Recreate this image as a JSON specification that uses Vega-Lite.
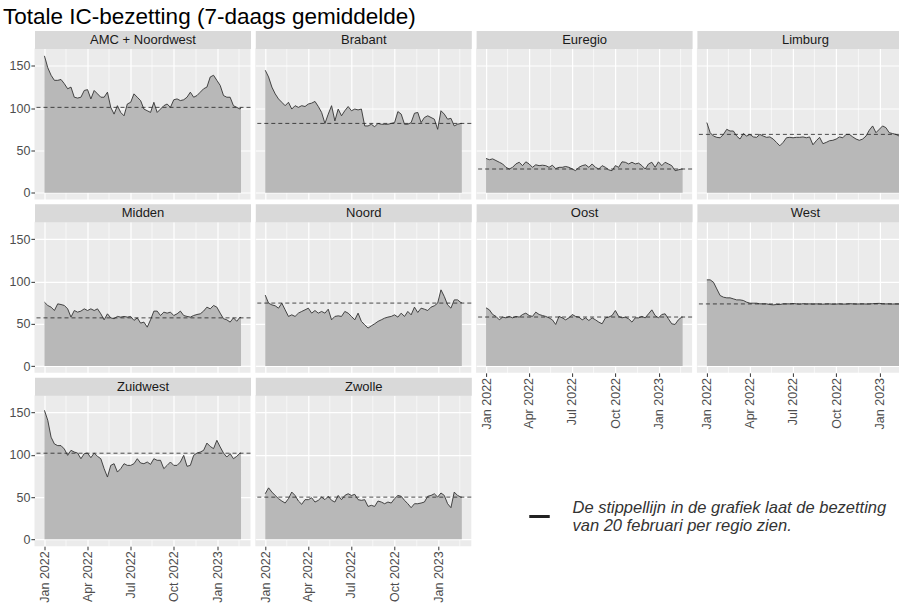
{
"$schema": "https://vega.github.io/schema/vega-lite/v6.json",
"background": "white",
"padding": {"left": 2.5, "top": 5.5, "right": 0, "bottom": 0},
"title": {"text": "Totale IC-bezetting (7-daags gemiddelde)", "anchor": "start", "font": "Liberation Sans", "fontSize": 22.5, "fontWeight": "normal", "color": "#000000", "offset": 5, "dx": -6},
"datasets": {
"ic": [
{"d":"2022-01-01","amc":162,"bra":145,"eur":40.5,"lim":83,"mid":75.6,"noo":84,"oos":68.9,"wes":102,"zui":152.8,"zwo":54},
{"d":"2022-01-08","amc":148,"bra":137,"eur":39,"lim":71,"mid":71.7,"noo":74.4,"oos":66.5,"wes":102,"zui":141,"zwo":61},
{"d":"2022-01-15","amc":139,"bra":125,"eur":40,"lim":67,"mid":69.7,"noo":72.4,"oos":61,"wes":99.2,"zui":121,"zwo":56},
{"d":"2022-01-22","amc":133,"bra":117,"eur":38,"lim":65.5,"mid":65.7,"noo":71.3,"oos":58.7,"wes":91.3,"zui":113,"zwo":52},
{"d":"2022-01-29","amc":133,"bra":111,"eur":36,"lim":65,"mid":73.6,"noo":68.5,"oos":54.7,"wes":83.5,"zui":111,"zwo":48.2},
{"d":"2022-02-05","amc":134,"bra":107,"eur":34,"lim":69,"mid":72.8,"noo":74.4,"oos":57.9,"wes":81.5,"zui":111,"zwo":45.4},
{"d":"2022-02-12","amc":129,"bra":103,"eur":30,"lim":75,"mid":71.7,"noo":66.5,"oos":57,"wes":80.7,"zui":107,"zwo":43},
{"d":"2022-02-19","amc":123,"bra":107,"eur":28,"lim":73,"mid":67.7,"noo":58.7,"oos":58.7,"wes":80.7,"zui":99.5,"zwo":48.2},
{"d":"2022-02-26","amc":125,"bra":99,"eur":30,"lim":73,"mid":57.9,"noo":60.6,"oos":57,"wes":79.5,"zui":105.4,"zwo":56},
{"d":"2022-03-05","amc":113,"bra":103,"eur":34,"lim":67,"mid":65.7,"noo":58.7,"oos":58.7,"wes":78.3,"zui":103.4,"zwo":52},
{"d":"2022-03-12","amc":112,"bra":101,"eur":36,"lim":63.5,"mid":63.8,"noo":62.6,"oos":57.9,"wes":78.3,"zui":102.2,"zwo":45.4},
{"d":"2022-03-19","amc":113,"bra":103,"eur":32,"lim":70,"mid":65,"noo":64.6,"oos":61,"wes":77.6,"zui":95.5,"zwo":41.5},
{"d":"2022-03-26","amc":121,"bra":102,"eur":36.5,"lim":67,"mid":67.7,"noo":66.5,"oos":62.6,"wes":75.6,"zui":101.5,"zwo":47},
{"d":"2022-04-02","amc":122,"bra":105,"eur":34,"lim":69,"mid":65.7,"noo":68.5,"oos":59.8,"wes":74.4,"zui":102.2,"zwo":47},
{"d":"2022-04-09","amc":111,"bra":106,"eur":30,"lim":66,"mid":67.7,"noo":62.6,"oos":58.7,"wes":74.4,"zui":96.7,"zwo":49.3},
{"d":"2022-04-16","amc":121,"bra":108,"eur":33,"lim":65.5,"mid":65.7,"noo":65.7,"oos":63.8,"wes":74.4,"zui":102.2,"zwo":44.2},
{"d":"2022-04-23","amc":117,"bra":102,"eur":32,"lim":69,"mid":67.7,"noo":62.6,"oos":61,"wes":73.6,"zui":98.3,"zwo":46.2},
{"d":"2022-04-30","amc":113,"bra":95,"eur":32.5,"lim":67,"mid":61.8,"noo":64.6,"oos":59.8,"wes":73.6,"zui":95.5,"zwo":50.1},
{"d":"2022-05-07","amc":113,"bra":82,"eur":32,"lim":65.5,"mid":54.7,"noo":62.6,"oos":58.7,"wes":73.6,"zui":83.7,"zwo":47},
{"d":"2022-05-14","amc":119,"bra":93,"eur":30,"lim":66,"mid":61.8,"noo":67.3,"oos":57,"wes":72.8,"zui":73.8,"zwo":51},
{"d":"2022-05-21","amc":101,"bra":103,"eur":32.5,"lim":63.5,"mid":57,"noo":54.7,"oos":54.7,"wes":72.4,"zui":87.6,"zwo":46.2},
{"d":"2022-05-28","amc":93,"bra":85,"eur":28.5,"lim":59.5,"mid":56,"noo":58.7,"oos":49.2,"wes":72.8,"zui":89.6,"zwo":44.2},
{"d":"2022-06-04","amc":103,"bra":99,"eur":30,"lim":55.5,"mid":58.7,"noo":59.4,"oos":58.7,"wes":72.8,"zui":79.7,"zwo":52},
{"d":"2022-06-11","amc":95,"bra":91,"eur":30,"lim":59.5,"mid":57.9,"noo":58.7,"oos":57,"wes":73.6,"zui":83.7,"zwo":47},
{"d":"2022-06-18","amc":91,"bra":97,"eur":31,"lim":65,"mid":58.7,"noo":64.6,"oos":54.7,"wes":73.6,"zui":89.6,"zwo":52},
{"d":"2022-06-25","amc":105,"bra":102,"eur":30,"lim":65.5,"mid":57.9,"noo":62.6,"oos":57,"wes":73.6,"zui":87.6,"zwo":54},
{"d":"2022-07-02","amc":107,"bra":97,"eur":28,"lim":65,"mid":58.7,"noo":58.7,"oos":61,"wes":74,"zui":87.6,"zwo":52},
{"d":"2022-07-09","amc":117,"bra":99,"eur":26,"lim":65.5,"mid":54,"noo":54.7,"oos":58.7,"wes":73.6,"zui":89.6,"zwo":53.3},
{"d":"2022-07-16","amc":113,"bra":98,"eur":30,"lim":65.5,"mid":57,"noo":62.6,"oos":57.9,"wes":73.2,"zui":95.5,"zwo":47},
{"d":"2022-07-23","amc":109,"bra":99,"eur":32,"lim":66,"mid":50.8,"noo":52.8,"oos":54.7,"wes":73.8,"zui":90.4,"zwo":46.2},
{"d":"2022-07-30","amc":99,"bra":79,"eur":33,"lim":65,"mid":52,"noo":48.8,"oos":57,"wes":73.4,"zui":89.6,"zwo":47},
{"d":"2022-08-06","amc":97,"bra":79,"eur":30,"lim":66,"mid":46,"noo":44.9,"oos":53.9,"wes":73.6,"zui":91.6,"zwo":39},
{"d":"2022-08-13","amc":95,"bra":81,"eur":34,"lim":56.7,"mid":54.7,"noo":47.6,"oos":57,"wes":73.3,"zui":88.8,"zwo":40.3},
{"d":"2022-08-20","amc":107,"bra":78,"eur":30,"lim":61.5,"mid":65,"noo":50,"oos":54.7,"wes":73.6,"zui":95.5,"zwo":39},
{"d":"2022-08-27","amc":95,"bra":82,"eur":28,"lim":65.5,"mid":65,"noo":52.8,"oos":52,"wes":73.4,"zui":93.6,"zwo":45.4},
{"d":"2022-09-03","amc":99,"bra":81,"eur":32,"lim":58,"mid":59.8,"noo":54.7,"oos":50,"wes":73.2,"zui":93.6,"zwo":44.2},
{"d":"2022-09-10","amc":103,"bra":81,"eur":30,"lim":59.5,"mid":63.8,"noo":56.7,"oos":57,"wes":73.5,"zui":83.7,"zwo":42.2},
{"d":"2022-09-17","amc":105,"bra":81,"eur":27,"lim":61.5,"mid":62.6,"noo":57.9,"oos":57.9,"wes":73.6,"zui":87.6,"zwo":44.2},
{"d":"2022-09-24","amc":101,"bra":82,"eur":26,"lim":62,"mid":63.8,"noo":58.7,"oos":59.8,"wes":73.2,"zui":91.6,"zwo":43},
{"d":"2022-10-01","amc":110,"bra":83,"eur":32,"lim":63.5,"mid":59.8,"noo":60.6,"oos":65.7,"wes":73.4,"zui":87.6,"zwo":48.2},
{"d":"2022-10-08","amc":111,"bra":96,"eur":30,"lim":66,"mid":61.8,"noo":57.9,"oos":58.7,"wes":73.6,"zui":87.6,"zwo":52},
{"d":"2022-10-15","amc":109,"bra":93,"eur":36.5,"lim":65,"mid":65,"noo":62.6,"oos":57,"wes":73.3,"zui":91.6,"zwo":51},
{"d":"2022-10-22","amc":110,"bra":81,"eur":36,"lim":69,"mid":59.8,"noo":58.7,"oos":57.9,"wes":73.4,"zui":99.5,"zwo":46.2},
{"d":"2022-10-29","amc":113,"bra":81,"eur":34,"lim":69,"mid":58.7,"noo":64.6,"oos":55.9,"wes":73.8,"zui":86.5,"zwo":42.2},
{"d":"2022-11-05","amc":119,"bra":83,"eur":36,"lim":66,"mid":57.9,"noo":60.6,"oos":52,"wes":73.6,"zui":87.6,"zwo":37.5},
{"d":"2022-11-12","amc":113,"bra":94,"eur":34,"lim":63.5,"mid":59.8,"noo":69.7,"oos":57,"wes":73.4,"zui":99.5,"zwo":42.2},
{"d":"2022-11-19","amc":115,"bra":95,"eur":35,"lim":62,"mid":61,"noo":63.4,"oos":57,"wes":73.5,"zui":102.2,"zwo":42.2},
{"d":"2022-11-26","amc":119,"bra":83,"eur":32,"lim":63.5,"mid":61.8,"noo":68.5,"oos":58.7,"wes":73.6,"zui":103.4,"zwo":43},
{"d":"2022-12-03","amc":123,"bra":89,"eur":28,"lim":67,"mid":65,"noo":67.3,"oos":57,"wes":73.4,"zui":105.4,"zwo":44.2},
{"d":"2022-12-10","amc":125,"bra":91,"eur":34,"lim":74,"mid":69.7,"noo":65.7,"oos":61.8,"wes":73.5,"zui":114,"zwo":51},
{"d":"2022-12-17","amc":137,"bra":89,"eur":36,"lim":79,"mid":67.7,"noo":69.7,"oos":66.5,"wes":73.8,"zui":110,"zwo":52},
{"d":"2022-12-24","amc":139,"bra":87,"eur":30,"lim":71,"mid":71.7,"noo":71.3,"oos":59.8,"wes":74,"zui":107.4,"zwo":54},
{"d":"2022-12-31","amc":133,"bra":75,"eur":36.5,"lim":75,"mid":69.7,"noo":74.4,"oos":57,"wes":74.2,"zui":117.3,"zwo":50.1},
{"d":"2023-01-07","amc":127,"bra":97,"eur":32,"lim":79,"mid":62.6,"noo":90.2,"oos":61,"wes":73.8,"zui":109.4,"zwo":54.9},
{"d":"2023-01-14","amc":115,"bra":93,"eur":36,"lim":77,"mid":56,"noo":82.3,"oos":61.8,"wes":73.5,"zui":102.2,"zwo":52},
{"d":"2023-01-21","amc":113,"bra":87,"eur":34,"lim":71,"mid":54.7,"noo":72.4,"oos":55.9,"wes":73.6,"zui":97.5,"zwo":42.2},
{"d":"2023-01-28","amc":113,"bra":88,"eur":32,"lim":70,"mid":52,"noo":68.5,"oos":50,"wes":73.4,"zui":101.5,"zwo":37.5},
{"d":"2023-02-04","amc":103,"bra":79,"eur":26,"lim":69,"mid":57,"noo":78.3,"oos":49.2,"wes":73.5,"zui":95.5,"zwo":56},
{"d":"2023-02-11","amc":101,"bra":81,"eur":27,"lim":67,"mid":53,"noo":78.3,"oos":54.7,"wes":73.5,"zui":98.3,"zwo":52},
{"d":"2023-02-18","amc":99,"bra":82,"eur":28,"lim":69,"mid":57.9,"noo":75.2,"oos":57.9,"wes":73.5,"zui":102.2,"zwo":50.1},
{"d":"2023-02-20","amc":101,"bra":82,"eur":28,"lim":69,"mid":57,"noo":75,"oos":58,"wes":73.5,"zui":102,"zwo":50}
],
"refs": [
{"r":"amc","v":101},{"r":"bra","v":82},{"r":"eur","v":28},{"r":"lim","v":69},{"r":"mid","v":57},
{"r":"noo","v":74.5},{"r":"oos","v":58},{"r":"wes","v":73.5},{"r":"zui","v":102},{"r":"zwo","v":50}
]
},
"data": {"name": "ic"},
"columns": 4,
"spacing": {"row": 22.35, "column": 4.8},
"bounds": "flush",
"concat": [
{"width":216,"height":151,"resolve":{"axis":{"x":"independent"}},"layer":[
 {"mark":{"type":"area","fill":"#B8B8B8"},"encoding":{
  "x":{"field":"d","type":"temporal","scale":{"domain":["2021-12-11","2023-03-12"]},"axis":{"values":[{"year":2022,"month":1,"date":1},{"year":2022,"month":2,"date":15},{"year":2022,"month":4,"date":1},{"year":2022,"month":5,"date":16},{"year":2022,"month":7,"date":1},{"year":2022,"month":8,"date":16},{"year":2022,"month":10,"date":1},{"year":2022,"month":11,"date":16},{"year":2023,"month":1,"date":1},{"year":2023,"month":2,"date":15}],"title":null,"grid":true,"labels":false,"ticks":false,"gridWidth":{"condition":{"test":"date(datum.value) === 1","value":1.2},"value":0.6}}},
  "y":{"field":"amc","type":"quantitative","scale":{"domain":[-8.1,170.7],"nice":false},"axis":{"values":[0,25,50,75,100,125,150],"title":null,"grid":true,"labelExpr":"datum.value % 50 === 0 ? datum.label : ''","labelOverlap":false,"labelFlush":false,"tickWidth":{"condition":{"test":"datum.value % 50 !== 0","value":0},"value":1},"gridWidth":{"condition":{"test":"datum.value % 50 === 0","value":1.2},"value":0.6}}}}},
 {"mark":{"type":"line","stroke":"#333333","strokeWidth":0.9},"encoding":{
  "x":{"field":"d","type":"temporal","scale":{"domain":["2021-12-11","2023-03-12"]},"axis":{"orient":"top","title":"AMC + Noordwest","grid":false,"labels":false,"ticks":false,"domain":true,"domainColor":"#D9D9D9","domainWidth":18,"offset":9,"titleFont":"Liberation Sans","titleFontSize":13,"titleFontWeight":"normal","titleColor":"#1A1A1A","titleY":0,"titleBaseline":"middle","titlePadding":0}},
  "y":{"field":"amc","type":"quantitative","scale":{"domain":[-8.1,170.7],"nice":false}}}},
 {"data":{"name":"refs"},"transform":[{"filter":"datum.r === 'amc'"}],"mark":{"type":"rule","stroke":"#222222","strokeDash":[4,3],"strokeWidth":0.8},"encoding":{
  "y":{"field":"v","type":"quantitative","scale":{"domain":[-8.1,170.7],"nice":false}}}}
]},
{"width":216,"height":151,"resolve":{"axis":{"x":"independent"}},"layer":[
 {"mark":{"type":"area","fill":"#B8B8B8"},"encoding":{
  "x":{"field":"d","type":"temporal","scale":{"domain":["2021-12-11","2023-03-12"]},"axis":{"values":[{"year":2022,"month":1,"date":1},{"year":2022,"month":2,"date":15},{"year":2022,"month":4,"date":1},{"year":2022,"month":5,"date":16},{"year":2022,"month":7,"date":1},{"year":2022,"month":8,"date":16},{"year":2022,"month":10,"date":1},{"year":2022,"month":11,"date":16},{"year":2023,"month":1,"date":1},{"year":2023,"month":2,"date":15}],"title":null,"grid":true,"labels":false,"ticks":false,"gridWidth":{"condition":{"test":"date(datum.value) === 1","value":1.2},"value":0.6}}},
  "y":{"field":"bra","type":"quantitative","scale":{"domain":[-8.1,170.7],"nice":false},"axis":{"values":[0,25,50,75,100,125,150],"title":null,"grid":true,"labels":false,"ticks":false,"gridWidth":{"condition":{"test":"datum.value % 50 === 0","value":1.2},"value":0.6}}}}},
 {"mark":{"type":"line","stroke":"#333333","strokeWidth":0.9},"encoding":{
  "x":{"field":"d","type":"temporal","scale":{"domain":["2021-12-11","2023-03-12"]},"axis":{"orient":"top","title":"Brabant","grid":false,"labels":false,"ticks":false,"domain":true,"domainColor":"#D9D9D9","domainWidth":18,"offset":9,"titleFont":"Liberation Sans","titleFontSize":13,"titleFontWeight":"normal","titleColor":"#1A1A1A","titleY":0,"titleBaseline":"middle","titlePadding":0}},
  "y":{"field":"bra","type":"quantitative","scale":{"domain":[-8.1,170.7],"nice":false}}}},
 {"data":{"name":"refs"},"transform":[{"filter":"datum.r === 'bra'"}],"mark":{"type":"rule","stroke":"#222222","strokeDash":[4,3],"strokeWidth":0.8},"encoding":{
  "y":{"field":"v","type":"quantitative","scale":{"domain":[-8.1,170.7],"nice":false}}}}
]},
{"width":216,"height":151,"resolve":{"axis":{"x":"independent"}},"layer":[
 {"mark":{"type":"area","fill":"#B8B8B8"},"encoding":{
  "x":{"field":"d","type":"temporal","scale":{"domain":["2021-12-11","2023-03-12"]},"axis":{"values":[{"year":2022,"month":1,"date":1},{"year":2022,"month":2,"date":15},{"year":2022,"month":4,"date":1},{"year":2022,"month":5,"date":16},{"year":2022,"month":7,"date":1},{"year":2022,"month":8,"date":16},{"year":2022,"month":10,"date":1},{"year":2022,"month":11,"date":16},{"year":2023,"month":1,"date":1},{"year":2023,"month":2,"date":15}],"title":null,"grid":true,"labels":false,"ticks":false,"gridWidth":{"condition":{"test":"date(datum.value) === 1","value":1.2},"value":0.6}}},
  "y":{"field":"eur","type":"quantitative","scale":{"domain":[-8.1,170.7],"nice":false},"axis":{"values":[0,25,50,75,100,125,150],"title":null,"grid":true,"labels":false,"ticks":false,"gridWidth":{"condition":{"test":"datum.value % 50 === 0","value":1.2},"value":0.6}}}}},
 {"mark":{"type":"line","stroke":"#333333","strokeWidth":0.9},"encoding":{
  "x":{"field":"d","type":"temporal","scale":{"domain":["2021-12-11","2023-03-12"]},"axis":{"orient":"top","title":"Euregio","grid":false,"labels":false,"ticks":false,"domain":true,"domainColor":"#D9D9D9","domainWidth":18,"offset":9,"titleFont":"Liberation Sans","titleFontSize":13,"titleFontWeight":"normal","titleColor":"#1A1A1A","titleY":0,"titleBaseline":"middle","titlePadding":0}},
  "y":{"field":"eur","type":"quantitative","scale":{"domain":[-8.1,170.7],"nice":false}}}},
 {"data":{"name":"refs"},"transform":[{"filter":"datum.r === 'eur'"}],"mark":{"type":"rule","stroke":"#222222","strokeDash":[4,3],"strokeWidth":0.8},"encoding":{
  "y":{"field":"v","type":"quantitative","scale":{"domain":[-8.1,170.7],"nice":false}}}}
]},
{"width":216,"height":151,"resolve":{"axis":{"x":"independent"}},"layer":[
 {"mark":{"type":"area","fill":"#B8B8B8"},"encoding":{
  "x":{"field":"d","type":"temporal","scale":{"domain":["2021-12-11","2023-03-12"]},"axis":{"values":[{"year":2022,"month":1,"date":1},{"year":2022,"month":2,"date":15},{"year":2022,"month":4,"date":1},{"year":2022,"month":5,"date":16},{"year":2022,"month":7,"date":1},{"year":2022,"month":8,"date":16},{"year":2022,"month":10,"date":1},{"year":2022,"month":11,"date":16},{"year":2023,"month":1,"date":1},{"year":2023,"month":2,"date":15}],"title":null,"grid":true,"labels":false,"ticks":false,"gridWidth":{"condition":{"test":"date(datum.value) === 1","value":1.2},"value":0.6}}},
  "y":{"field":"lim","type":"quantitative","scale":{"domain":[-8.1,170.7],"nice":false},"axis":{"values":[0,25,50,75,100,125,150],"title":null,"grid":true,"labels":false,"ticks":false,"gridWidth":{"condition":{"test":"datum.value % 50 === 0","value":1.2},"value":0.6}}}}},
 {"mark":{"type":"line","stroke":"#333333","strokeWidth":0.9},"encoding":{
  "x":{"field":"d","type":"temporal","scale":{"domain":["2021-12-11","2023-03-12"]},"axis":{"orient":"top","title":"Limburg","grid":false,"labels":false,"ticks":false,"domain":true,"domainColor":"#D9D9D9","domainWidth":18,"offset":9,"titleFont":"Liberation Sans","titleFontSize":13,"titleFontWeight":"normal","titleColor":"#1A1A1A","titleY":0,"titleBaseline":"middle","titlePadding":0}},
  "y":{"field":"lim","type":"quantitative","scale":{"domain":[-8.1,170.7],"nice":false}}}},
 {"data":{"name":"refs"},"transform":[{"filter":"datum.r === 'lim'"}],"mark":{"type":"rule","stroke":"#222222","strokeDash":[4,3],"strokeWidth":0.8},"encoding":{
  "y":{"field":"v","type":"quantitative","scale":{"domain":[-8.1,170.7],"nice":false}}}}
]},
{"width":216,"height":151,"resolve":{"axis":{"x":"independent"}},"layer":[
 {"mark":{"type":"area","fill":"#B8B8B8"},"encoding":{
  "x":{"field":"d","type":"temporal","scale":{"domain":["2021-12-11","2023-03-12"]},"axis":{"values":[{"year":2022,"month":1,"date":1},{"year":2022,"month":2,"date":15},{"year":2022,"month":4,"date":1},{"year":2022,"month":5,"date":16},{"year":2022,"month":7,"date":1},{"year":2022,"month":8,"date":16},{"year":2022,"month":10,"date":1},{"year":2022,"month":11,"date":16},{"year":2023,"month":1,"date":1},{"year":2023,"month":2,"date":15}],"title":null,"grid":true,"labels":false,"ticks":false,"gridWidth":{"condition":{"test":"date(datum.value) === 1","value":1.2},"value":0.6}}},
  "y":{"field":"mid","type":"quantitative","scale":{"domain":[-8.1,170.7],"nice":false},"axis":{"values":[0,25,50,75,100,125,150],"title":null,"grid":true,"labelExpr":"datum.value % 50 === 0 ? datum.label : ''","labelOverlap":false,"labelFlush":false,"tickWidth":{"condition":{"test":"datum.value % 50 !== 0","value":0},"value":1},"gridWidth":{"condition":{"test":"datum.value % 50 === 0","value":1.2},"value":0.6}}}}},
 {"mark":{"type":"line","stroke":"#333333","strokeWidth":0.9},"encoding":{
  "x":{"field":"d","type":"temporal","scale":{"domain":["2021-12-11","2023-03-12"]},"axis":{"orient":"top","title":"Midden","grid":false,"labels":false,"ticks":false,"domain":true,"domainColor":"#D9D9D9","domainWidth":18,"offset":9,"titleFont":"Liberation Sans","titleFontSize":13,"titleFontWeight":"normal","titleColor":"#1A1A1A","titleY":0,"titleBaseline":"middle","titlePadding":0}},
  "y":{"field":"mid","type":"quantitative","scale":{"domain":[-8.1,170.7],"nice":false}}}},
 {"data":{"name":"refs"},"transform":[{"filter":"datum.r === 'mid'"}],"mark":{"type":"rule","stroke":"#222222","strokeDash":[4,3],"strokeWidth":0.8},"encoding":{
  "y":{"field":"v","type":"quantitative","scale":{"domain":[-8.1,170.7],"nice":false}}}}
]},
{"width":216,"height":151,"resolve":{"axis":{"x":"independent"}},"layer":[
 {"mark":{"type":"area","fill":"#B8B8B8"},"encoding":{
  "x":{"field":"d","type":"temporal","scale":{"domain":["2021-12-11","2023-03-12"]},"axis":{"values":[{"year":2022,"month":1,"date":1},{"year":2022,"month":2,"date":15},{"year":2022,"month":4,"date":1},{"year":2022,"month":5,"date":16},{"year":2022,"month":7,"date":1},{"year":2022,"month":8,"date":16},{"year":2022,"month":10,"date":1},{"year":2022,"month":11,"date":16},{"year":2023,"month":1,"date":1},{"year":2023,"month":2,"date":15}],"title":null,"grid":true,"labels":false,"ticks":false,"gridWidth":{"condition":{"test":"date(datum.value) === 1","value":1.2},"value":0.6}}},
  "y":{"field":"noo","type":"quantitative","scale":{"domain":[-8.1,170.7],"nice":false},"axis":{"values":[0,25,50,75,100,125,150],"title":null,"grid":true,"labels":false,"ticks":false,"gridWidth":{"condition":{"test":"datum.value % 50 === 0","value":1.2},"value":0.6}}}}},
 {"mark":{"type":"line","stroke":"#333333","strokeWidth":0.9},"encoding":{
  "x":{"field":"d","type":"temporal","scale":{"domain":["2021-12-11","2023-03-12"]},"axis":{"orient":"top","title":"Noord","grid":false,"labels":false,"ticks":false,"domain":true,"domainColor":"#D9D9D9","domainWidth":18,"offset":9,"titleFont":"Liberation Sans","titleFontSize":13,"titleFontWeight":"normal","titleColor":"#1A1A1A","titleY":0,"titleBaseline":"middle","titlePadding":0}},
  "y":{"field":"noo","type":"quantitative","scale":{"domain":[-8.1,170.7],"nice":false}}}},
 {"data":{"name":"refs"},"transform":[{"filter":"datum.r === 'noo'"}],"mark":{"type":"rule","stroke":"#222222","strokeDash":[4,3],"strokeWidth":0.8},"encoding":{
  "y":{"field":"v","type":"quantitative","scale":{"domain":[-8.1,170.7],"nice":false}}}}
]},
{"width":216,"height":151,"resolve":{"axis":{"x":"independent"}},"layer":[
 {"mark":{"type":"area","fill":"#B8B8B8"},"encoding":{
  "x":{"field":"d","type":"temporal","scale":{"domain":["2021-12-11","2023-03-12"]},"axis":{"values":[{"year":2022,"month":1,"date":1},{"year":2022,"month":2,"date":15},{"year":2022,"month":4,"date":1},{"year":2022,"month":5,"date":16},{"year":2022,"month":7,"date":1},{"year":2022,"month":8,"date":16},{"year":2022,"month":10,"date":1},{"year":2022,"month":11,"date":16},{"year":2023,"month":1,"date":1},{"year":2023,"month":2,"date":15}],"title":null,"grid":true,"labelAngle":270,"labelExpr":"date(datum.value) === 1 ? timeFormat(datum.value, '%b %Y') : ''","labelFlush":false,"labelOverlap":false,"labelBound":false,"tickWidth":{"condition":{"test":"date(datum.value) !== 1","value":0},"value":1},"gridWidth":{"condition":{"test":"date(datum.value) === 1","value":1.2},"value":0.6}}},
  "y":{"field":"oos","type":"quantitative","scale":{"domain":[-8.1,170.7],"nice":false},"axis":{"values":[0,25,50,75,100,125,150],"title":null,"grid":true,"labels":false,"ticks":false,"gridWidth":{"condition":{"test":"datum.value % 50 === 0","value":1.2},"value":0.6}}}}},
 {"mark":{"type":"line","stroke":"#333333","strokeWidth":0.9},"encoding":{
  "x":{"field":"d","type":"temporal","scale":{"domain":["2021-12-11","2023-03-12"]},"axis":{"orient":"top","title":"Oost","grid":false,"labels":false,"ticks":false,"domain":true,"domainColor":"#D9D9D9","domainWidth":18,"offset":9,"titleFont":"Liberation Sans","titleFontSize":13,"titleFontWeight":"normal","titleColor":"#1A1A1A","titleY":0,"titleBaseline":"middle","titlePadding":0}},
  "y":{"field":"oos","type":"quantitative","scale":{"domain":[-8.1,170.7],"nice":false}}}},
 {"data":{"name":"refs"},"transform":[{"filter":"datum.r === 'oos'"}],"mark":{"type":"rule","stroke":"#222222","strokeDash":[4,3],"strokeWidth":0.8},"encoding":{
  "y":{"field":"v","type":"quantitative","scale":{"domain":[-8.1,170.7],"nice":false}}}}
]},
{"width":216,"height":151,"resolve":{"axis":{"x":"independent"}},"layer":[
 {"mark":{"type":"area","fill":"#B8B8B8"},"encoding":{
  "x":{"field":"d","type":"temporal","scale":{"domain":["2021-12-11","2023-03-12"]},"axis":{"values":[{"year":2022,"month":1,"date":1},{"year":2022,"month":2,"date":15},{"year":2022,"month":4,"date":1},{"year":2022,"month":5,"date":16},{"year":2022,"month":7,"date":1},{"year":2022,"month":8,"date":16},{"year":2022,"month":10,"date":1},{"year":2022,"month":11,"date":16},{"year":2023,"month":1,"date":1},{"year":2023,"month":2,"date":15}],"title":null,"grid":true,"labelAngle":270,"labelExpr":"date(datum.value) === 1 ? timeFormat(datum.value, '%b %Y') : ''","labelFlush":false,"labelOverlap":false,"labelBound":false,"tickWidth":{"condition":{"test":"date(datum.value) !== 1","value":0},"value":1},"gridWidth":{"condition":{"test":"date(datum.value) === 1","value":1.2},"value":0.6}}},
  "y":{"field":"wes","type":"quantitative","scale":{"domain":[-8.1,170.7],"nice":false},"axis":{"values":[0,25,50,75,100,125,150],"title":null,"grid":true,"labels":false,"ticks":false,"gridWidth":{"condition":{"test":"datum.value % 50 === 0","value":1.2},"value":0.6}}}}},
 {"mark":{"type":"line","stroke":"#333333","strokeWidth":0.9},"encoding":{
  "x":{"field":"d","type":"temporal","scale":{"domain":["2021-12-11","2023-03-12"]},"axis":{"orient":"top","title":"West","grid":false,"labels":false,"ticks":false,"domain":true,"domainColor":"#D9D9D9","domainWidth":18,"offset":9,"titleFont":"Liberation Sans","titleFontSize":13,"titleFontWeight":"normal","titleColor":"#1A1A1A","titleY":0,"titleBaseline":"middle","titlePadding":0}},
  "y":{"field":"wes","type":"quantitative","scale":{"domain":[-8.1,170.7],"nice":false}}}},
 {"data":{"name":"refs"},"transform":[{"filter":"datum.r === 'wes'"}],"mark":{"type":"rule","stroke":"#222222","strokeDash":[4,3],"strokeWidth":0.8},"encoding":{
  "y":{"field":"v","type":"quantitative","scale":{"domain":[-8.1,170.7],"nice":false}}}}
]},
{"width":216,"height":151,"resolve":{"axis":{"x":"independent"}},"layer":[
 {"mark":{"type":"area","fill":"#B8B8B8"},"encoding":{
  "x":{"field":"d","type":"temporal","scale":{"domain":["2021-12-11","2023-03-12"]},"axis":{"values":[{"year":2022,"month":1,"date":1},{"year":2022,"month":2,"date":15},{"year":2022,"month":4,"date":1},{"year":2022,"month":5,"date":16},{"year":2022,"month":7,"date":1},{"year":2022,"month":8,"date":16},{"year":2022,"month":10,"date":1},{"year":2022,"month":11,"date":16},{"year":2023,"month":1,"date":1},{"year":2023,"month":2,"date":15}],"title":null,"grid":true,"labelAngle":270,"labelExpr":"date(datum.value) === 1 ? timeFormat(datum.value, '%b %Y') : ''","labelFlush":false,"labelOverlap":false,"labelBound":false,"tickWidth":{"condition":{"test":"date(datum.value) !== 1","value":0},"value":1},"gridWidth":{"condition":{"test":"date(datum.value) === 1","value":1.2},"value":0.6}}},
  "y":{"field":"zui","type":"quantitative","scale":{"domain":[-8.1,170.7],"nice":false},"axis":{"values":[0,25,50,75,100,125,150],"title":null,"grid":true,"labelExpr":"datum.value % 50 === 0 ? datum.label : ''","labelOverlap":false,"labelFlush":false,"tickWidth":{"condition":{"test":"datum.value % 50 !== 0","value":0},"value":1},"gridWidth":{"condition":{"test":"datum.value % 50 === 0","value":1.2},"value":0.6}}}}},
 {"mark":{"type":"line","stroke":"#333333","strokeWidth":0.9},"encoding":{
  "x":{"field":"d","type":"temporal","scale":{"domain":["2021-12-11","2023-03-12"]},"axis":{"orient":"top","title":"Zuidwest","grid":false,"labels":false,"ticks":false,"domain":true,"domainColor":"#D9D9D9","domainWidth":18,"offset":9,"titleFont":"Liberation Sans","titleFontSize":13,"titleFontWeight":"normal","titleColor":"#1A1A1A","titleY":0,"titleBaseline":"middle","titlePadding":0}},
  "y":{"field":"zui","type":"quantitative","scale":{"domain":[-8.1,170.7],"nice":false}}}},
 {"data":{"name":"refs"},"transform":[{"filter":"datum.r === 'zui'"}],"mark":{"type":"rule","stroke":"#222222","strokeDash":[4,3],"strokeWidth":0.8},"encoding":{
  "y":{"field":"v","type":"quantitative","scale":{"domain":[-8.1,170.7],"nice":false}}}}
]},
{"width":216,"height":151,"resolve":{"axis":{"x":"independent"}},"layer":[
 {"mark":{"type":"area","fill":"#B8B8B8"},"encoding":{
  "x":{"field":"d","type":"temporal","scale":{"domain":["2021-12-11","2023-03-12"]},"axis":{"values":[{"year":2022,"month":1,"date":1},{"year":2022,"month":2,"date":15},{"year":2022,"month":4,"date":1},{"year":2022,"month":5,"date":16},{"year":2022,"month":7,"date":1},{"year":2022,"month":8,"date":16},{"year":2022,"month":10,"date":1},{"year":2022,"month":11,"date":16},{"year":2023,"month":1,"date":1},{"year":2023,"month":2,"date":15}],"title":null,"grid":true,"labelAngle":270,"labelExpr":"date(datum.value) === 1 ? timeFormat(datum.value, '%b %Y') : ''","labelFlush":false,"labelOverlap":false,"labelBound":false,"tickWidth":{"condition":{"test":"date(datum.value) !== 1","value":0},"value":1},"gridWidth":{"condition":{"test":"date(datum.value) === 1","value":1.2},"value":0.6}}},
  "y":{"field":"zwo","type":"quantitative","scale":{"domain":[-8.1,170.7],"nice":false},"axis":{"values":[0,25,50,75,100,125,150],"title":null,"grid":true,"labels":false,"ticks":false,"gridWidth":{"condition":{"test":"datum.value % 50 === 0","value":1.2},"value":0.6}}}}},
 {"mark":{"type":"line","stroke":"#333333","strokeWidth":0.9},"encoding":{
  "x":{"field":"d","type":"temporal","scale":{"domain":["2021-12-11","2023-03-12"]},"axis":{"orient":"top","title":"Zwolle","grid":false,"labels":false,"ticks":false,"domain":true,"domainColor":"#D9D9D9","domainWidth":18,"offset":9,"titleFont":"Liberation Sans","titleFontSize":13,"titleFontWeight":"normal","titleColor":"#1A1A1A","titleY":0,"titleBaseline":"middle","titlePadding":0}},
  "y":{"field":"zwo","type":"quantitative","scale":{"domain":[-8.1,170.7],"nice":false}}}},
 {"data":{"name":"refs"},"transform":[{"filter":"datum.r === 'zwo'"}],"mark":{"type":"rule","strokeDash":[4,3],"strokeWidth":0.8},"encoding":{
  "y":{"field":"v","type":"quantitative","scale":{"domain":[-8.1,170.7],"nice":false}},
  "stroke":{"datum":"De stippellijn in de grafiek laat de bezetting|van 20 februari per regio zien.","type":"nominal","scale":{"range":["#222222"]},"legend":{"orient":"none","legendX":493,"legendY":456,"title":null,"padding":0,"symbolType":"stroke","symbolSize":420,"symbolStrokeWidth":3,"symbolDash":[1,0],"labelExpr":"split(datum.label, '|')","labelFont":"Liberation Sans","labelFontStyle":"italic","labelFontSize":16.5,"labelColor":"#333333","labelLimit":0,"labelOffset":21,"labelBaseline":"line-bottom"}}}}
]}
],
"config": {
 "view": {"fill": "#EBEBEB", "stroke": null},
 "axis": {"labelFont": "Liberation Sans", "labelFontSize": 12.5, "labelColor": "#4D4D4D", "tickColor": "#333333", "tickSize": 3.6, "labelPadding": 1, "gridColor": "#FFFFFF", "domain": false}
}
}
